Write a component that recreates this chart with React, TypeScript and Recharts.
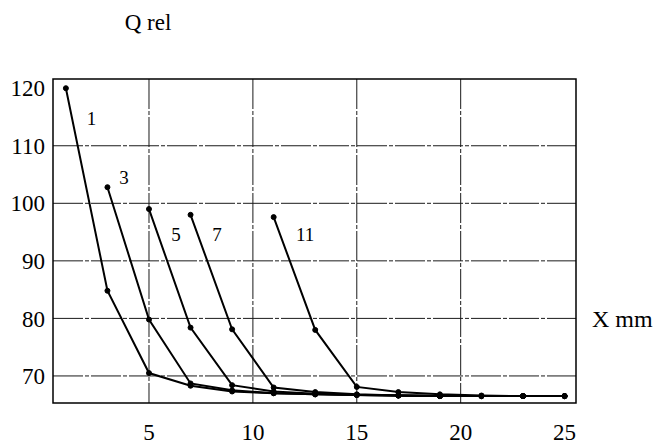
import React from "react";
import {
  LineChart,
  Line,
  XAxis,
  YAxis,
  CartesianGrid,
  ReferenceArea,
  ReferenceLine,
  ReferenceDot,
} from "recharts";

// --- data ---
const xPositions = [1, 3, 5, 7, 9, 11, 13, 15, 17, 19, 21, 23, 25];

// each curve starts at its own x and runs to 25 in 2 mm steps
const curve1 = [120, 84.8, 70.5, 68.3, 67.3, 67.0, 66.8, 66.7, 66.6, 66.5, 66.5, 66.5, 66.5];
const curve3 = [102.8, 79.8, 68.7, 67.5, 67.0, 66.8, 66.7, 66.6, 66.5, 66.5, 66.5, 66.5];
const curve5 = [99.0, 78.4, 68.4, 67.3, 66.9, 66.7, 66.6, 66.5, 66.5, 66.5, 66.5];
const curve7 = [98.0, 78.1, 68.0, 67.2, 66.8, 66.6, 66.5, 66.5, 66.5, 66.5];
const curve11 = [97.6, 78.0, 68.1, 67.2, 66.8, 66.6, 66.5, 66.5];

const curveNames = ["1", "3", "5", "7", "11"];
const curveStarts = [1, 3, 5, 7, 11];
const curveValues = [curve1, curve3, curve5, curve7, curve11];

// where the curve numbers sit (data units)
const labelX = [2.23, 3.8, 6.3, 8.27, 12.51];
const labelY = [114.7, 104.6, 94.65, 94.65, 94.65];

const xTicks = [5, 10, 15, 20, 25];
const yTicks = [70, 80, 90, 100, 110, 120];
const gridX = [5, 10, 15, 20];
const gridY = [70, 80, 90, 100, 110];

const X_DOMAIN: [number, number] = [0.38, 25.55];
const Y_DOMAIN: [number, number] = [65.3, 121.6];

const FONT = '"Liberation Serif", "DejaVu Serif", serif';

// build the table recharts wants
const rows = xPositions.map((x) => {
  const row: Record<string, number | undefined> = { x };
  curveNames.forEach((name, i) => {
    const idx = (x - curveStarts[i]) / 2;
    row["c" + name] = idx >= 0 ? curveValues[i][idx] : undefined;
  });
  return row;
});

const tickStyle = { fill: "#000", fontSize: 23, fontFamily: FONT };

export default function App() {
  return (
    <div
      style={{
        position: "absolute",
        left: 0,
        top: 0,
        background: "#fff",
        fontFamily: FONT,
      }}
    >
      <LineChart
        width={658}
        height={444}
        data={rows}
        margin={{ top: 79, right: 82, bottom: 0, left: 13 }}
        style={{ fontFamily: FONT }}
      >
        <CartesianGrid
          horizontalValues={gridY}
          verticalValues={gridX}
          stroke="#1a1a1a"
          strokeDasharray="30 2 4 2"
        />
        <XAxis
          dataKey="x"
          type="number"
          domain={X_DOMAIN}
          ticks={xTicks}
          allowDataOverflow
          height={41}
          axisLine={false}
          tickLine={false}
          tickMargin={15}
          tick={tickStyle}
        />
        <YAxis
          type="number"
          domain={Y_DOMAIN}
          ticks={yTicks}
          allowDataOverflow
          width={40}
          axisLine={false}
          tickLine={false}
          tick={tickStyle}
          label={(props: any) => {
            const vb = props.viewBox || { x: 13, y: 79, width: 40 };
            return (
              <text
                x={vb.x + vb.width + 95}
                y={30}
                textAnchor="middle"
                fontSize={23}
                fill="#000"
                fontFamily={FONT}
              >
                Q rel
              </text>
            );
          }}
        />
        {/* plot frame */}
        <ReferenceArea
          x1={X_DOMAIN[0]}
          x2={X_DOMAIN[1]}
          y1={Y_DOMAIN[0]}
          y2={Y_DOMAIN[1]}
          fill="none"
          stroke="#000"
          strokeWidth={1.5}
          fillOpacity={0}
        />
        <ReferenceLine
          y={80}
          stroke="none"
          label={{
            value: "X mm",
            position: "right",
            offset: 16,
            fill: "#000",
            fontSize: 24,
            fontFamily: FONT,
          }}
        />
        {curveNames.map((name) => (
          <Line
            key={name}
            dataKey={"c" + name}
            type="linear"
            stroke="#000"
            strokeWidth={2}
            dot={{ r: 2.5, fill: "#000", stroke: "#000", strokeWidth: 1 }}
            connectNulls={false}
            isAnimationActive={false}
          />
        ))}
        {curveNames.map((name, i) => (
          <ReferenceDot
            key={"lbl" + name}
            x={labelX[i]}
            y={labelY[i]}
            r={0}
            fill="none"
            stroke="none"
            label={{
              value: name,
              position: "center",
              fill: "#000",
              fontSize: 19,
              fontFamily: FONT,
            }}
          />
        ))}
      </LineChart>
    </div>
  );
}
